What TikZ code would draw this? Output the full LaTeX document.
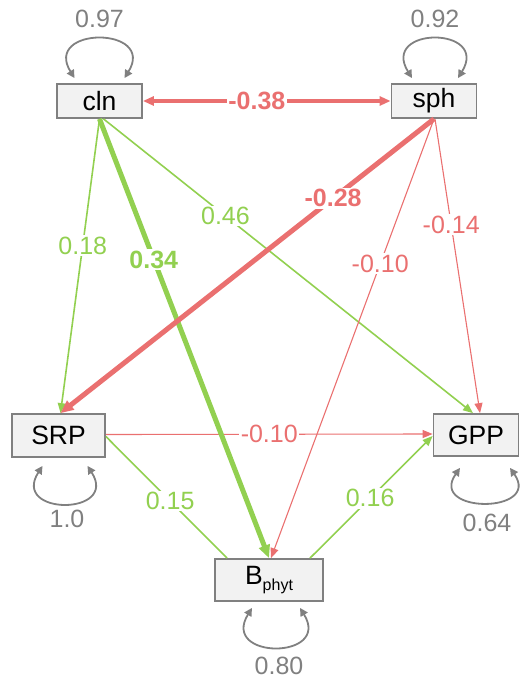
\documentclass[tikz,border=0pt]{standalone}
\usepackage{fontspec}
\setmainfont{Liberation Sans}
\usetikzlibrary{arrows.meta}
\definecolor{pgreen}{RGB}{146,208,80}
\definecolor{pred}{RGB}{234,112,112}
\definecolor{pgray}{RGB}{128,128,128}
\definecolor{boxfill}{RGB}{242,242,242}
\begin{document}
\begin{tikzpicture}[x=1pt,y=-1pt,
  var/.style={draw=pgray, line width=1.8pt, fill=boxfill, inner sep=0pt,
    font=\fontsize{26.5}{28}\selectfont, text=black},
  lab/.style={fill=white, inner sep=1.5pt, font=\fontsize{25}{27}\selectfont},
  blab/.style={lab, font=\fontsize{25}{27}\selectfont\bfseries},
  tipthin/.style={-{Triangle[length=10pt,width=8pt]}},
  tipthick/.style={-{Triangle[length=13pt,width=11pt]}},
  gthin/.style={draw=pgreen, line width=1.6pt, tipthin},
  rthin/.style={draw=pred, line width=1.1pt, tipthin},
  loopline/.style={draw=pgray, line width=1.8pt, {Triangle[length=8pt,width=8pt]}-{Triangle[length=8pt,width=8pt]}},
  looplab/.style={text=pgray, font=\fontsize{25}{27}\selectfont, inner sep=0pt}
]
\useasboundingbox (0,0) rectangle (520,682);

% variables
\node[var, minimum width=85pt, minimum height=34pt] (cln) at (99.5,101) {cln};
\node[var, minimum width=85pt, minimum height=34pt] (sph) at (434,101) {sph};
\node[var, minimum width=93pt, minimum height=43pt] (SRP) at (58.5,435.5) {SRP};
\node[var, minimum width=85pt, minimum height=42pt] (GPP) at (476,435) {GPP};
\node[var, minimum width=108pt, minimum height=42pt] (B) at (269,580)
  {B\raisebox{-6pt}{\fontsize{16}{16}\selectfont phyt}};

% self loops (residual variances)
\draw[loopline] ([xshift=-25pt,yshift=5pt]cln.north) .. controls +(-32,-52) and +(32,-52) ..
  node[looplab, pos=0.5, yshift=20pt] (lcln) {0.97} ([xshift=25pt,yshift=5pt]cln.north);
\draw[loopline] ([xshift=-22pt,yshift=5pt]sph.north) .. controls +(-32,-52) and +(32,-52) ..
  node[looplab, pos=0.5, yshift=20pt] (lsph) {0.92} ([xshift=24pt,yshift=5pt]sph.north);
\draw[loopline] ([xshift=-16pt,yshift=-8pt]SRP.south) .. controls +(-32,50) and +(32,50) ..
  node[looplab, pos=0.5, xshift=2pt, yshift=-15pt] (lSRP) {1.0} ([xshift=29pt,yshift=-8pt]SRP.south);
\draw[loopline] ([xshift=-16pt,yshift=-11pt]GPP.south) .. controls +(-32,46) and +(32,46) ..
  node[looplab, pos=0.5, xshift=2pt, yshift=-20pt] (lGPP) {0.64} ([xshift=34pt,yshift=-11pt]GPP.south);
\draw[loopline] ([xshift=-17pt,yshift=-6pt]B.south) .. controls +(-32,52) and +(32,52) ..
  node[looplab, pos=0.5, xshift=3pt, yshift=-19pt] (lB) {0.80} ([xshift=31pt,yshift=-6pt]B.south);

% thin paths
\draw[gthin] (cln.south) -- node[lab, text=pgreen, pos=0.43] (e1) {0.18} ([xshift=2pt]SRP.north);
\draw[gthin] ([xshift=4pt]cln.south) -- node[lab, text=pgreen, pos=0.33] (e2) {0.46} ([xshift=-3pt]GPP.north);
\draw[rthin] (sph.south) -- node[lab, text=pred, pos=0.33] (e3) {-0.10} ([xshift=2pt]B.north);
\draw[rthin] ([xshift=1pt]sph.south) -- node[lab, text=pred, pos=0.36] (e4) {-0.14} ([xshift=4pt]GPP.north);
\draw[rthin] ([yshift=1pt]SRP.east) -- node[lab, text=pred, pos=0.5] (e5) {-0.10} ([yshift=1pt]GPP.west);
\draw[draw=pgreen, line width=1.6pt] ([yshift=-1pt]SRP.east) -- node[lab, text=pgreen, pos=0.53] (e6) {0.15} ([xshift=-42pt]B.north);
\draw[gthin] ([xshift=41pt]B.north) -- node[lab, text=pgreen, pos=0.49] (e7) {0.16} ([yshift=-1pt]GPP.west);

% thick paths
\draw[draw=pgreen, line width=5pt, tipthick] (cln.south) -- node[blab, text=pgreen, pos=0.32] (e8) {0.34} (B.north);
\draw[draw=pred, line width=5pt, tipthick] (sph.south) -- node[blab, text=pred, pos=0.27] (e9) {-0.28} ([xshift=2pt]SRP.north);
\draw[draw=pred, line width=3.5pt, {Triangle[length=11pt,width=9pt]}-{Triangle[length=11pt,width=9pt]}]
  (cln.east) -- node[blab, text=pred, pos=0.46] (e10) {-0.38} (sph.west);
\end{tikzpicture}
\end{document}
